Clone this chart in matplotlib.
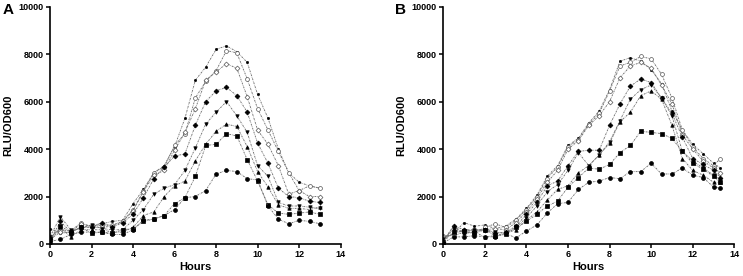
import numpy as np
import matplotlib.pyplot as plt

plt.rcParams['font.family'] = ['Liberation Sans', 'DejaVu Sans']

# Time points (hours)
hours_a = np.arange(0, 13.01, 0.5)
hours_b = np.append(np.arange(0, 13.01, 0.5), 13.33)

# Panel A series (RLU/OD600)
a_dot = [650, 450, 500, 700, 800, 850, 950, 1000, 1700, 2300, 3000, 3300, 4100, 5300,
         6900, 7450, 8200, 8350, 8100, 7650, 6300, 5300, 4000, 3000, 2600, 2450, 2350]
a_circ = [300, 600, 550, 900, 700, 700, 750, 950, 1450, 2250, 3000, 3250, 4150, 4650,
          6150, 6850, 7300, 8150, 8050, 6950, 5700, 4800, 3900, 3000, 2250, 2450, 2350]
a_odiam = [200, 500, 500, 850, 750, 800, 800, 950, 1400, 2200, 2900, 3100, 3950, 4700,
           5700, 6900, 7250, 7600, 7400, 6200, 4800, 4200, 3300, 2100, 2250, 2000, 2000]
a_diam = [150, 950, 500, 700, 700, 900, 700, 900, 1250, 1950, 2750, 3250, 3700, 3800,
          5000, 6000, 6450, 6600, 6250, 5550, 4250, 3400, 2350, 2000, 1950, 1800, 1750]
a_down = [300, 1150, 600, 650, 800, 650, 600, 600, 1000, 1450, 2100, 2350, 2500, 3100,
          4050, 5050, 5550, 6000, 5400, 4700, 3300, 2850, 1750, 1600, 1600, 1550, 1500]
a_up = [100, 700, 300, 600, 600, 600, 500, 500, 700, 1200, 1350, 2000, 2450, 2650,
        3500, 4200, 4750, 5050, 4950, 4100, 3050, 2400, 1650, 1500, 1500, 1450, 1550]
a_sq = [200, 750, 500, 700, 450, 500, 450, 600, 650, 950, 1050, 1200, 1700, 1950,
        2850, 4150, 4200, 4650, 4550, 3550, 2650, 1650, 1300, 1250, 1300, 1350, 1250]
a_fill = [100, 200, 400, 500, 500, 500, 400, 400, 600, 1000, 1050, 1200, 1450, 1950,
          2000, 2250, 2950, 3100, 3050, 2750, 2700, 1600, 1050, 850, 1000, 950, 850]

# Panel B series
b_dot = [200, 450, 900, 750, 800, 650, 750, 1050, 1500, 2050, 2850, 3300, 4150, 4450,
         5100, 5600, 6500, 7700, 7850, 7700, 7350, 6750, 5600, 4800, 4200, 3800, 3400, 3200]
b_circ = [350, 350, 500, 450, 700, 850, 700, 1000, 1450, 2000, 2750, 3250, 4100, 4400,
          5050, 5500, 6450, 7500, 7650, 7900, 7800, 7150, 6150, 4800, 4100, 3600, 3300, 3600]
b_odiam = [300, 400, 600, 600, 600, 650, 600, 900, 1350, 1900, 2600, 3100, 4000, 4350,
           5000, 5400, 6000, 7000, 7500, 7650, 7400, 6700, 5900, 4600, 4000, 3500, 3200, 3000]
b_diam = [100, 750, 600, 550, 600, 450, 500, 750, 1250, 1750, 2450, 2650, 3300, 3900,
          3950, 3950, 5000, 5900, 6650, 6950, 6800, 6150, 5500, 4500, 3600, 3350, 3100, 2800]
b_down = [200, 600, 500, 600, 600, 500, 450, 700, 1100, 1600, 2200, 2500, 3100, 3850,
          3300, 3750, 4300, 5200, 6100, 6500, 6700, 6150, 5400, 3900, 3500, 3200, 2900, 2700]
b_up = [150, 750, 450, 500, 300, 350, 450, 600, 1000, 1350, 1850, 2300, 2450, 3000,
        3300, 3750, 4250, 5150, 5550, 6250, 6450, 6100, 5000, 3600, 3100, 2900, 2600, 2600]
b_sq = [100, 500, 550, 450, 600, 350, 400, 700, 950, 1250, 1600, 1800, 2400, 2800,
        3200, 3150, 3350, 3850, 4150, 4750, 4700, 4650, 4450, 3900, 3400, 3150, 2850, 2600]
b_fill = [50, 300, 300, 350, 300, 300, 450, 250, 550, 800, 1300, 1700, 1750, 2300,
          2600, 2650, 2800, 2750, 3050, 3050, 3400, 2950, 2950, 3200, 2900, 2800, 2400, 2350]

# marker, filled?
styles = [('.', True), ('o', False), ('D', False), ('D', True),
          ('v', True), ('^', True), ('s', True), ('o', True)]

fig = plt.figure(figsize=(7.43, 2.76), dpi=100)
ax_a = fig.add_axes([0.0673, 0.116, 0.3912, 0.86])
ax_b = fig.add_axes([0.5966, 0.116, 0.3917, 0.86])

panels = [
    (ax_a, hours_a, [a_dot, a_circ, a_odiam, a_diam, a_down, a_up, a_sq, a_fill]),
    (ax_b, hours_b, [b_dot, b_circ, b_odiam, b_diam, b_down, b_up, b_sq, b_fill]),
]

for ax, t, series in panels:
    for vals, (mk, filled) in zip(series, styles):
        size = 2.5 if mk in ('D', 'v', '^', 's') else 2.8
        if mk == '.':
            size = 3.2
        ax.plot(t, vals, linestyle=(0, (2, 1, 0.6, 1)), color='#707070', linewidth=0.65,
                marker=mk, markersize=size,
                markerfacecolor='black' if filled else 'white',
                markeredgecolor='black' if filled else '#555555',
                markeredgewidth=0.5)
    ax.set_xlim(0, 14)
    ax.set_ylim(0, 10000)
    ax.set_xticks(range(0, 15, 2))
    ax.set_yticks(range(0, 10001, 2000))
    for s in ('top', 'right'):
        ax.spines[s].set_visible(False)
    for s in ('left', 'bottom'):
        ax.spines[s].set_linewidth(1.2)
    ax.tick_params(direction='out', length=3, width=1.1, labelsize=6.5, pad=1.5)
    for lbl in ax.get_xticklabels() + ax.get_yticklabels():
        lbl.set_fontweight('bold')
    ax.set_xlabel('Hours', fontsize=8, fontweight='bold', labelpad=2)
    ax.set_ylabel('RLU/OD600', fontsize=8, fontweight='bold', labelpad=4)

fig.text(0.004, 0.962, 'A', fontsize=11, fontweight='bold', va='center')
fig.text(0.532, 0.962, 'B', fontsize=11, fontweight='bold', va='center')

fig.savefig('out.png', dpi=100)
